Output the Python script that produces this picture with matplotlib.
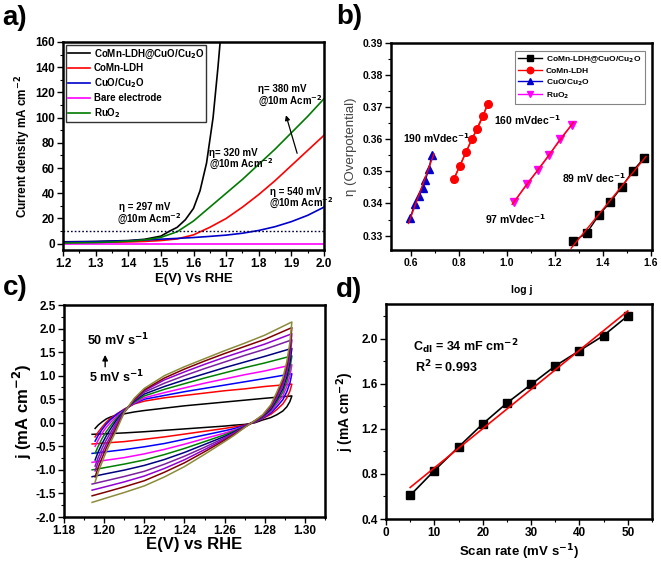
import numpy as np
import matplotlib
matplotlib.use("Agg")
import matplotlib.pyplot as plt
from matplotlib.ticker import MultipleLocator, FormatStrFormatter

plt.rcParams['font.family'] = ['Liberation Sans', 'DejaVu Sans']
plt.rcParams['font.weight'] = 'bold'
plt.rcParams['mathtext.default'] = 'bf'

# ---------------- Panel a: LSV ----------------
lsv_E = [1.20, 1.25, 1.30, 1.35, 1.40, 1.45, 1.50, 1.55, 1.60, 1.65, 1.70, 1.75, 1.80, 1.85, 1.90, 1.95, 2.00]
lsv_ldh = [0.8, 0.9, 1.0, 1.2, 1.4, 1.8, 2.5, 3.8, 7.0, 13.0, 20.0, 29.0, 39.0, 50.0, 62.0, 74.0, 86.0]
lsv_cuo = [1.2, 1.4, 1.6, 1.9, 2.3, 2.9, 3.6, 4.2, 4.9, 5.8, 6.8, 8.3, 10.5, 13.5, 17.5, 22.5, 29.0]
lsv_bare = [0.0] * 17
lsv_ruo2 = [0.5, 0.7, 0.9, 1.3, 2.0, 3.0, 5.0, 9.5, 18.0, 29.0, 40.0, 51.0, 63.0, 75.0, 88.0, 101.0, 115.0]
lsv_E_hybrid = [1.20, 1.30, 1.40, 1.45, 1.50, 1.527, 1.55, 1.575, 1.60, 1.62, 1.64, 1.66, 1.675, 1.685]
lsv_hybrid = [1.5, 1.8, 2.5, 3.5, 6.0, 10.0, 13.0, 19.0, 28.0, 42.0, 64.0, 100.0, 140.0, 170.0]
lsv_labels = ['CoMn-LDH@CuO/Cu$_2$O', 'CoMn-LDH', 'CuO/Cu$_2$O', 'Bare electrode', 'RuO$_2$']
lsv_colors = ['black', '#ff0000', '#0000cc', '#ff00ff', '#007a00']

# ---------------- Panel b: Tafel ----------------
taf_hybrid_x = [1.276, 1.332, 1.383, 1.432, 1.478, 1.526, 1.572]
taf_hybrid_y = [0.3282, 0.3307, 0.3363, 0.3405, 0.3451, 0.3502, 0.3542]
taf_ldh_x = [0.780, 0.804, 0.830, 0.854, 0.877, 0.901, 0.920]
taf_ldh_y = [0.3477, 0.3518, 0.3561, 0.3601, 0.3632, 0.3673, 0.3711]
taf_cuo_x = [0.598, 0.616, 0.632, 0.649, 0.660, 0.674, 0.688]
taf_cuo_y = [0.3356, 0.3399, 0.3423, 0.3448, 0.3472, 0.3506, 0.3552]
taf_ruo2_x = [1.030, 1.083, 1.129, 1.176, 1.222, 1.270]
taf_ruo2_y = [0.3404, 0.3461, 0.3503, 0.3550, 0.3601, 0.3644]
taf_labels = ['CoMn-LDH@CuO/Cu$_2$O', 'CoMn-LDH', 'CuO/Cu$_2$O', 'RuO$_2$']
taf_slopes = ['89 mV dec$^{-1}$', '160 mVdec$^{-1}$', '190 mVdec$^{-1}$', '97 mVdec$^{-1}$']

# ---------------- Panel c: CV ----------------
cv_rates = [5, 10, 15, 20, 25, 30, 35, 40, 45, 50]
cv_colors = ['black', '#ff0000', '#0000ff', '#ff00ff', '#008000', '#000080',
             '#7b1fa2', '#9400d3', '#800000', '#8b8b3a']
cv_x_up = [1.1955, 1.197, 1.199, 1.201, 1.203, 1.206, 1.21, 1.215, 1.22, 1.23, 1.24, 1.25, 1.26,
           1.27, 1.28, 1.2935]
cv_upper = [
    [-0.12, -0.05, 0.02, 0.08, 0.12, 0.16, 0.19, 0.23, 0.26, 0.31, 0.36, 0.40, 0.44, 0.48, 0.52, 0.57],
    [-0.30, -0.20, -0.09, 0.01, 0.09, 0.18, 0.29, 0.40, 0.46, 0.53, 0.58, 0.63, 0.68, 0.72, 0.77, 0.82],
    [-0.39, -0.27, -0.14, -0.03, 0.06, 0.17, 0.28, 0.41, 0.50, 0.58, 0.66, 0.73, 0.80, 0.87, 0.94, 1.04],
    [-0.50, -0.37, -0.22, -0.10, 0.00, 0.13, 0.27, 0.42, 0.53, 0.64, 0.74, 0.84, 0.93, 1.02, 1.10, 1.23],
    [-0.65, -0.50, -0.33, -0.19, -0.07, 0.09, 0.26, 0.44, 0.57, 0.71, 0.83, 0.95, 1.06, 1.17, 1.27, 1.42],
    [-0.79, -0.62, -0.44, -0.28, -0.14, 0.05, 0.25, 0.46, 0.61, 0.77, 0.91, 1.04, 1.17, 1.29, 1.41, 1.58],
    [-0.92, -0.74, -0.54, -0.37, -0.22, 0.00, 0.24, 0.48, 0.65, 0.84, 1.00, 1.15, 1.29, 1.43, 1.56, 1.76],
    [-1.02, -0.84, -0.64, -0.46, -0.30, -0.05, 0.23, 0.49, 0.68, 0.91, 1.08, 1.24, 1.39, 1.53, 1.67, 1.89],
    [-1.15, -0.95, -0.74, -0.54, -0.37, -0.11, 0.22, 0.50, 0.70, 0.95, 1.14, 1.31, 1.47, 1.62, 1.77, 2.02],
    [-1.26, -1.05, -0.83, -0.62, -0.43, -0.17, 0.22, 0.52, 0.73, 1.00, 1.19, 1.36, 1.53, 1.69, 1.86, 2.14],
]
cv_x_lo = [1.2935, 1.2925, 1.291, 1.289, 1.286, 1.283, 1.279, 1.275, 1.27,
           1.265, 1.26, 1.25, 1.24, 1.23, 1.22, 1.21, 1.20, 1.194]
cv_lower = [
    [0.57, 0.45, 0.34, 0.25, 0.17, 0.11, 0.06, 0.00, -0.035,
     -0.05, -0.07, -0.10, -0.13, -0.16, -0.19, -0.215, -0.235, -0.245],
    [0.82, 0.67, 0.53, 0.40, 0.28, 0.18, 0.09, 0.01, -0.05,
     -0.086, -0.12, -0.18, -0.24, -0.30, -0.35, -0.40, -0.43, -0.45],
    [1.04, 0.84, 0.66, 0.49, 0.34, 0.21, 0.10, 0.015, -0.06,
     -0.12, -0.17, -0.26, -0.35, -0.44, -0.51, -0.57, -0.62, -0.65],
    [1.23, 0.99, 0.77, 0.57, 0.39, 0.24, 0.11, 0.02, -0.07,
     -0.15, -0.22, -0.335, -0.455, -0.565, -0.66, -0.74, -0.80, -0.84],
    [1.42, 1.14, 0.88, 0.65, 0.44, 0.27, 0.12, 0.025, -0.075,
     -0.17, -0.255, -0.40, -0.545, -0.675, -0.79, -0.877, -0.955, -1.00],
    [1.58, 1.27, 0.98, 0.72, 0.49, 0.29, 0.13, 0.03, -0.08,
     -0.19, -0.29, -0.46, -0.63, -0.78, -0.905, -1.005, -1.09, -1.145],
    [1.76, 1.40, 1.07, 0.78, 0.53, 0.32, 0.14, 0.035, -0.085,
     -0.21, -0.32, -0.52, -0.71, -0.88, -1.03, -1.14, -1.24, -1.30],
    [1.89, 1.50, 1.15, 0.84, 0.57, 0.34, 0.15, 0.04, -0.09,
     -0.225, -0.345, -0.57, -0.785, -0.97, -1.13, -1.255, -1.365, -1.43],
    [2.02, 1.60, 1.22, 0.90, 0.61, 0.36, 0.16, 0.04, -0.095,
     -0.24, -0.37, -0.615, -0.85, -1.05, -1.23, -1.36, -1.48, -1.55],
    [2.14, 1.70, 1.30, 0.95, 0.65, 0.38, 0.17, 0.045, -0.10,
     -0.26, -0.40, -0.67, -0.93, -1.15, -1.34, -1.48, -1.61, -1.69],
]

# ---------------- Panel d: Cdl ----------------
dl_rate = [5, 10, 15, 20, 25, 30, 35, 40, 45, 50]
dl_j = [0.61, 0.83, 1.04, 1.245, 1.43, 1.595, 1.76, 1.895, 2.03, 2.205]

fig = plt.figure(figsize=(6.61, 5.61), dpi=100)
W, H = 661, 561


def make_ax(l, t, r, b):
    return fig.add_axes([l / W, 1 - b / H, (r - l) / W, (b - t) / H])


def style(ax, lw=1.8):
    for s in ax.spines.values():
        s.set_linewidth(lw)
    ax.tick_params(which='both', direction='out', top=False, right=False)
    ax.tick_params(which='major', length=4, width=1.0, pad=2)
    ax.tick_params(which='minor', length=2, width=0.8)


# ===== a =====
axa = make_ax(63, 42, 324, 250)
axa.plot(lsv_E_hybrid, lsv_hybrid, color=lsv_colors[0], lw=1.2, label=lsv_labels[0])
for ys, lab, c in zip([lsv_ldh, lsv_cuo, lsv_bare, lsv_ruo2], lsv_labels[1:], lsv_colors[1:]):
    axa.plot(lsv_E, ys, color=c, lw=1.2, label=lab)
axa.axhline(10, color='#000040', lw=1.0, ls=(0, (1.2, 1.5)))
axa.set_xlim(1.2, 2.0)
axa.set_ylim(-5, 160)
axa.xaxis.set_major_locator(MultipleLocator(0.1))
axa.xaxis.set_minor_locator(MultipleLocator(0.05))
axa.yaxis.set_major_locator(MultipleLocator(20))
axa.yaxis.set_minor_locator(MultipleLocator(10))
axa.xaxis.set_major_formatter(FormatStrFormatter('%.1f'))
style(axa)
axa.tick_params(labelsize=8.5)
axa.set_xlabel('E(V) Vs RHE', fontsize=9.5, fontweight='bold', labelpad=2)
axa.set_ylabel('Current density mA cm$^{-2}$', fontsize=8.5, fontweight='bold', labelpad=1)
leg = axa.legend(loc='upper left', fontsize=7, frameon=True, fancybox=False, edgecolor='black',
                 handlelength=2.2, borderaxespad=0.3, labelspacing=0.3, borderpad=0.25,
                 handletextpad=0.4)
leg.get_frame().set_linewidth(1.0)
ann_kw = dict(fontsize=7, fontweight='bold')
axa.text(1.371, 29.5, 'η = 297 mV', **ann_kw, va='center')
axa.text(1.366, 19.5, '@10m Acm$^{-2}$', **ann_kw, va='center')
axa.text(1.647, 71.7, 'η= 320 mV', **ann_kw, va='center')
axa.text(1.647, 62.5, '@10m Acm$^{-2}$', **ann_kw, va='center')
axa.text(1.833, 41, 'η = 540 mV', **ann_kw, va='center')
axa.text(1.830, 32, '@10m Acm$^{-2}$', **ann_kw, va='center')
axa.text(1.799, 122.8, 'η= 380 mV', **ann_kw, va='center')
axa.text(1.799, 113, '@10m Acm$^{-2}$', **ann_kw, va='center')
axa.annotate('', xy=(1.881, 104), xytext=(1.92, 69.6),
             arrowprops=dict(arrowstyle='-|>', color='black', lw=0.9, mutation_scale=7))

# ===== b =====
axb = make_ax(391, 43, 652, 250)
tafs = [(taf_hybrid_x, taf_hybrid_y, 'black', 's'),
        (taf_ldh_x, taf_ldh_y, '#ff0000', 'o'),
        (taf_cuo_x, taf_cuo_y, '#0000cc', '^'),
        (taf_ruo2_x, taf_ruo2_y, '#ff00ff', 'v')]
for (xs, ys, c, m), lab in zip(tafs, taf_labels):
    axb.plot(xs, ys, color=c, marker=m, ms=5.5, lw=1.0, label=lab)
for xs, ys, c, m in tafs:
    p = np.polyfit(xs, ys, 1)
    xx = np.array([min(xs) - 0.008, max(xs) + 0.008])
    axb.plot(xx, np.polyval(p, xx), color='#ff0000', lw=1.0, zorder=3)
axb.set_xlim(0.517, 1.605)
axb.set_ylim(0.3255, 0.39)
axb.xaxis.set_major_locator(MultipleLocator(0.2))
axb.xaxis.set_minor_locator(MultipleLocator(0.1))
axb.yaxis.set_major_locator(MultipleLocator(0.01))
axb.yaxis.set_minor_locator(MultipleLocator(0.005))
axb.xaxis.set_major_formatter(FormatStrFormatter('%.1f'))
axb.yaxis.set_major_formatter(FormatStrFormatter('%.2f'))
style(axb)
axb.tick_params(labelsize=7.5)
axb.set_xlabel('log j', fontsize=7.5, fontweight='bold', labelpad=12)
axb.set_ylabel('η (Overpotential)', fontsize=9.5, fontweight='normal', color='#444444', labelpad=4)
legb = axb.legend(loc='upper right', fontsize=6, frameon=True, fancybox=False, edgecolor='#666666',
                  handlelength=2.8, borderaxespad=0.9, labelspacing=0.3, borderpad=0.4,
                  markerscale=0.85, handletextpad=0.5)
legb.get_frame().set_linewidth(0.8)
bk = dict(fontsize=7.5, fontweight='bold', va='center')
axb.text(0.565, 0.3605, taf_slopes[2], **bk)
axb.text(0.947, 0.3661, taf_slopes[1], **bk)
axb.text(0.908, 0.3350, taf_slopes[3], **bk)
axb.text(1.230, 0.3478, taf_slopes[0], **bk)

# ===== c =====
axc = make_ax(64, 305, 325, 517)
for up, lo, c in zip(cv_upper, cv_lower, cv_colors):
    xs = list(cv_x_up) + list(cv_x_lo)
    ys = list(up) + list(lo)
    axc.plot(xs, ys, color=c, lw=1.1)
axc.set_xlim(1.18, 1.31)
axc.set_ylim(-2.0, 2.5)
axc.xaxis.set_major_locator(MultipleLocator(0.02))
axc.xaxis.set_minor_locator(MultipleLocator(0.01))
axc.yaxis.set_major_locator(MultipleLocator(0.5))
axc.yaxis.set_minor_locator(MultipleLocator(0.25))
axc.xaxis.set_major_formatter(FormatStrFormatter('%.2f'))
axc.yaxis.set_major_formatter(FormatStrFormatter('%.1f'))
style(axc)
axc.tick_params(labelsize=8.5)
axc.set_xlabel('E(V) vs RHE', fontsize=12, fontweight='bold', labelpad=0)
axc.set_ylabel('j (mA cm$^{-2}$)', fontsize=12, fontweight='bold', labelpad=1)
axc.text(1.1915, 1.757, '%d mV s$^{-1}$' % cv_rates[-1], fontsize=9, fontweight='bold', va='center')
axc.text(1.1925, 0.978, '%d mV s$^{-1}$' % cv_rates[0], fontsize=9, fontweight='bold', va='center')
axc.annotate('', xy=(1.2005, 1.50), xytext=(1.2005, 1.13),
             arrowprops=dict(arrowstyle='-|>', color='black', lw=1.0, mutation_scale=8))

# ===== d =====
axd = make_ax(386, 304, 652, 519)
axd.plot(dl_rate, dl_j, color='black', marker='s', ms=6, lw=1.2)
p = np.polyfit(dl_rate, dl_j, 1)
xx = np.array([dl_rate[0], dl_rate[-1]])
axd.plot(xx, np.polyval(p, xx), color='#ff0000', lw=1.2)
axd.set_xlim(0, 55)
axd.set_ylim(0.4, 2.31)
axd.xaxis.set_major_locator(MultipleLocator(10))
axd.xaxis.set_minor_locator(MultipleLocator(5))
axd.yaxis.set_major_locator(MultipleLocator(0.4))
axd.yaxis.set_minor_locator(MultipleLocator(0.2))
axd.yaxis.set_major_formatter(FormatStrFormatter('%.1f'))
style(axd)
axd.tick_params(labelsize=8.5)
axd.set_xlabel('Scan rate (mV s$^{-1}$)', fontsize=9.5, fontweight='bold', labelpad=2)
axd.set_ylabel('j (mA cm$^{-2}$)', fontsize=10, fontweight='bold', labelpad=4)
axd.text(5.6, 1.93, 'C$_{dl}$ = 34 mF cm$^{-2}$', fontsize=9, fontweight='bold', va='center')
axd.text(6.0, 1.748, 'R$^{2}$ = 0.993', fontsize=9, fontweight='bold', va='center')

# panel letters
for txt, x, y in [('a)', 2, 18), ('b)', 336, 17), ('c)', 3, 288), ('d)', 336, 290)]:
    fig.text(x / W, 1 - y / H, txt, fontsize=20, fontweight='bold', va='center', ha='left')

fig.savefig('out.png', dpi=100)
